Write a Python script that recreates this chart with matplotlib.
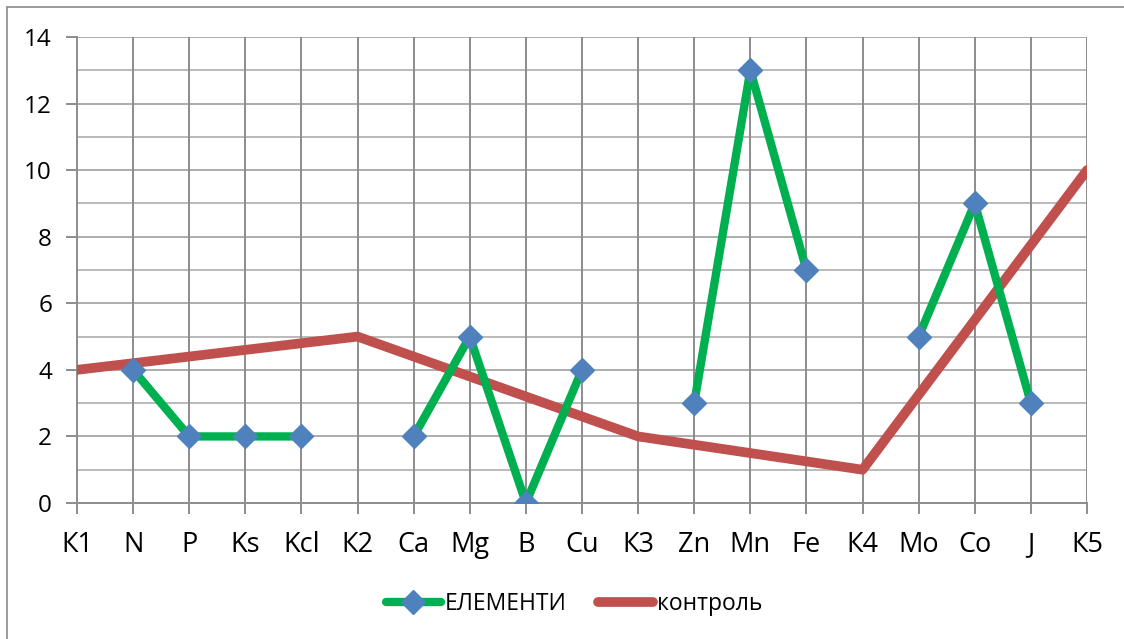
import numpy as np
import matplotlib.pyplot as plt
from matplotlib.patches import Rectangle

plt.rcParams['font.family'] = ['Open Sans', 'DejaVu Sans']

# categories on the x axis
categories = ['К1', 'N', 'P', 'Ks', 'Kcl', 'К2', 'Ca', 'Mg', 'B', 'Cu', 'К3',
              'Zn', 'Mn', 'Fe', 'К4', 'Mo', 'Co', 'J', 'К5']
# ЕЛЕМЕНТИ (nan = no value)
elements = [np.nan, 4, 2, 2, 2, np.nan, 2, 5, 0, 4, np.nan,
            3, 13, 7, np.nan, 5, 9, 3, np.nan]
# контроль, only given at the control points
control = [4, np.nan, np.nan, np.nan, np.nan, 5, np.nan, np.nan, np.nan, np.nan, 2,
           np.nan, np.nan, np.nan, 1, np.nan, np.nan, np.nan, 10]
y_ticks = [0, 2, 4, 6, 8, 10, 12, 14]

x = np.arange(len(categories))
elements = np.array(elements, dtype=float)
control = np.array(control, dtype=float)

fig = plt.figure(figsize=(11.24, 6.39), dpi=100)
W, H = 1124, 639
# chart border
fig.patches.append(Rectangle((7 / W, -0.1), 1.2, 1 - 7 / H + 0.1, transform=fig.transFigure,
                             fill=False, edgecolor='#8a8a8a', linewidth=1.2))

ax = fig.add_axes([77 / W, 1 - 503 / H, (1087 - 77) / W, (503 - 37) / H])
ax.set_xlim(0, len(categories) - 1)
ax.set_ylim(0, 14)

# grid
for yv in np.arange(1, 15):
    ax.axhline(yv, color='#b4b4b4' if yv % 2 else '#a6a6a6', lw=1.3, zorder=1)
for xv in x[1:]:
    ax.axvline(xv, color='#8c8c8c', lw=1.4, zorder=1)

# control line: connect the available points
m = ~np.isnan(control)
ax.plot(x[m], control[m], color='#C0504D', lw=7, solid_capstyle='round',
        solid_joinstyle='round', zorder=3, label='контроль')

# element line with gaps
ax.plot(x, elements, color='#00B050', lw=6, solid_capstyle='round',
        solid_joinstyle='round', marker='D', markersize=12,
        markerfacecolor='#4F81BD', markeredgecolor='#4F81BD', zorder=4,
        label='ЕЛЕМЕНТИ')

ax.set_xticks(x)
ax.set_xticklabels(categories, fontsize=19.5)
ax.set_yticks(y_ticks)
ax.set_yticklabels([str(v) for v in y_ticks], fontsize=17.5)
ax.tick_params(axis='both', direction='out', length=8, width=1.4, color='#8c8c8c')
ax.tick_params(axis='x', pad=12)
ax.tick_params(axis='y', pad=10)
for side in ['top', 'right']:
    ax.spines[side].set_visible(False)
for side in ['left', 'bottom']:
    ax.spines[side].set_color('#8c8c8c')
    ax.spines[side].set_linewidth(1.4)

handles, labels = ax.get_legend_handles_labels()
fig.legend(handles[::-1], labels[::-1], loc='center', bbox_to_anchor=(0.5 + 12 / W, 1 - 604 / H),
           ncol=2, frameon=False, fontsize=16.5, handlelength=2.4, handletextpad=0.15,
           columnspacing=1.4)

fig.savefig('out.png', dpi=100)
